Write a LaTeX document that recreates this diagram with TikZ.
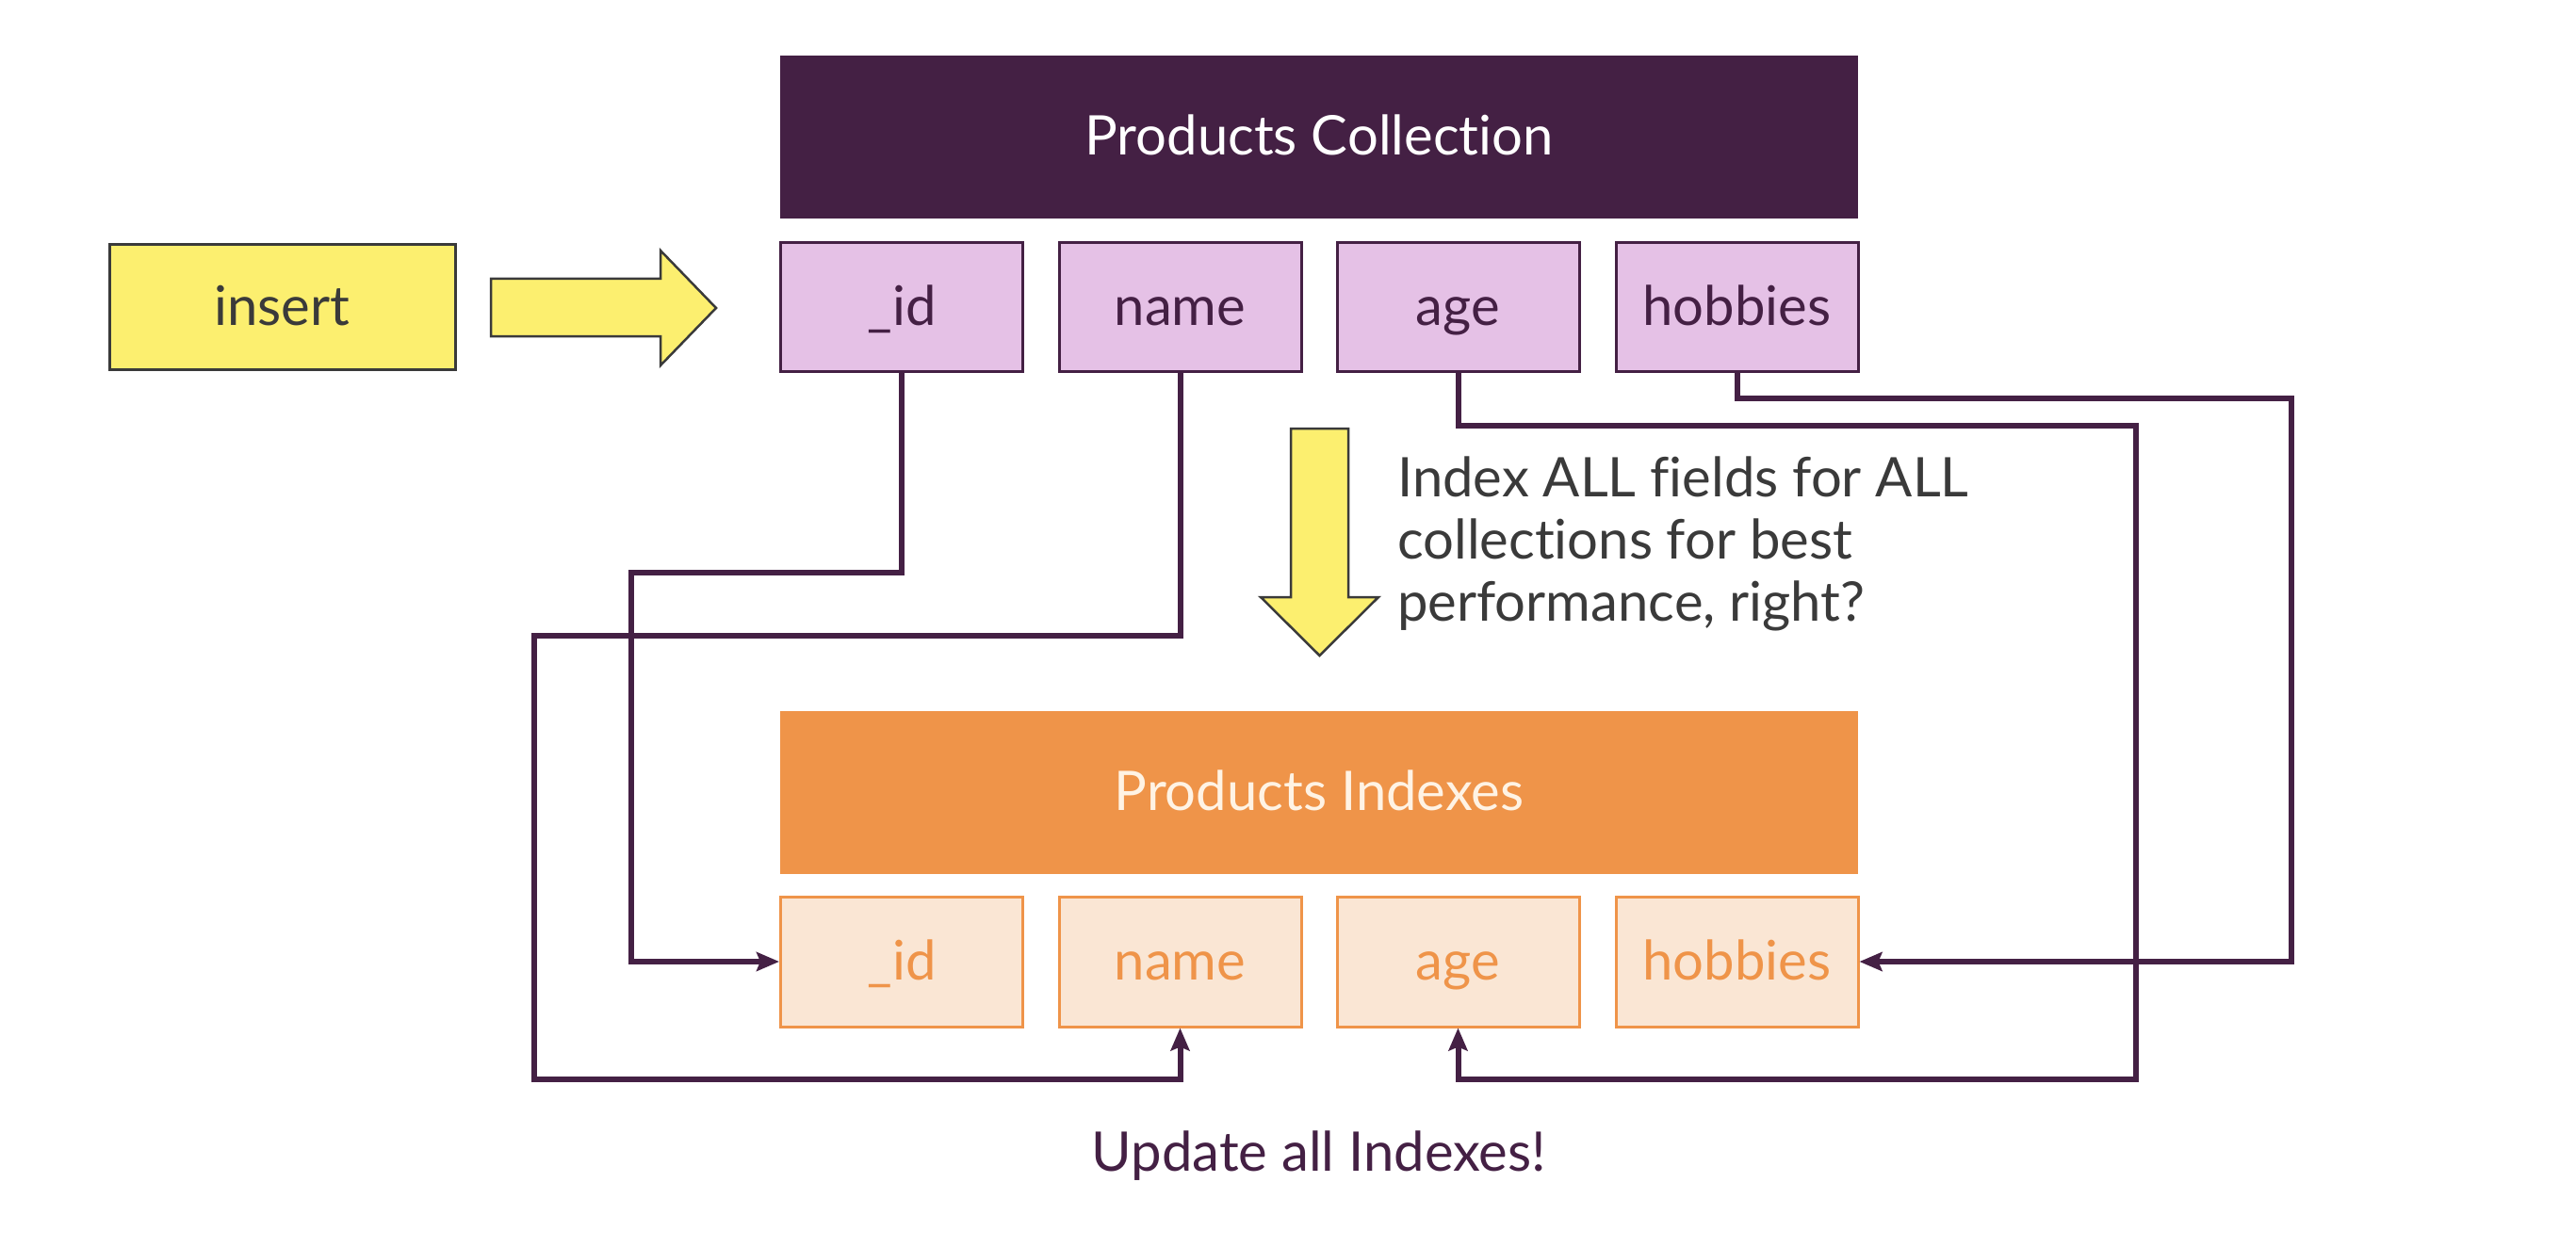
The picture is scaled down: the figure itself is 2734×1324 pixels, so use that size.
\documentclass[tikz,border=0pt]{standalone}
\usepackage{fontspec}
\setmainfont{Lato}[Ligatures=NoCommon]
\usetikzlibrary{arrows.meta}
\definecolor{dpurple}{HTML}{442044}
\definecolor{pinkf}{HTML}{E5C1E6}
\definecolor{yel}{HTML}{FCEF6F}
\definecolor{orng}{HTML}{EF9449}
\definecolor{lorng}{HTML}{FAE6D4}
\definecolor{cream}{HTML}{FFF3E4}
\definecolor{dgray}{HTML}{3A3A3A}
\tikzset{
  txt/.style={font=\fontsize{58}{66}\selectfont},
  boxtxt/.style={txt, text height=52pt, text depth=14pt},
  header/.style={boxtxt, minimum width=1144pt, minimum height=173pt, inner sep=0pt},
  fieldbox/.style={boxtxt, draw=dpurple, line width=3pt, fill=pinkf, text=dpurple, minimum width=257pt, minimum height=136pt, inner sep=0pt},
  idxbox/.style={boxtxt, draw=orng, line width=3pt, fill=lorng, text=orng, minimum width=257pt, minimum height=138pt, inner sep=0pt},
  insbox/.style={boxtxt, draw=dgray, line width=3pt, fill=yel, text=dgray, minimum width=367pt, minimum height=132pt, inner sep=0pt},
  bigarrow/.style={draw=dgray, line width=2.5pt, fill=yel, line join=miter},
  conn/.style={draw=dpurple, line width=6pt, -{Stealth[length=24pt, width=20pt, inset=4pt]}},
}
\begin{document}
\begin{tikzpicture}[x=1pt, y=-1pt]
\useasboundingbox[fill=white] (0,0) rectangle (2734,1324);
% headers
\node[header, fill=dpurple, text=white] (pc) at (1400,145.5) {Products Collection};
\node[header, fill=orng, text=cream] (pi) at (1400,841.5) {Products Indexes};
% collection fields
\node[fieldbox] (f1) at (957,326) {\_id};
\node[fieldbox] (f2) at (1252.5,326) {name};
\node[fieldbox] (f3) at (1547.5,326) {age};
\node[fieldbox] (f4) at (1843.5,326) {hobbies};
% index fields
\node[idxbox] (i1) at (957,1021) {\_id};
\node[idxbox] (i2) at (1252.5,1021) {name};
\node[idxbox] (i3) at (1547.5,1021) {age};
\node[idxbox] (i4) at (1843.5,1021) {hobbies};
% insert
\node[insbox] (ins) at (299.5,326) {insert};
% big arrows
\path[bigarrow] (521,296) -- (701,296) -- (701,266) -- (760,327) -- (701,388) -- (701,357) -- (521,357) -- cycle;
\path[bigarrow] (1370,455) -- (1431,455) -- (1431,634) -- (1463,634) -- (1400.5,696) -- (1338,634) -- (1370,634) -- cycle;
% note
\node[txt, text=dgray, align=left, anchor=base west, inner sep=0pt] (note) at (1483,659)
  {Index ALL fields for ALL\\collections for best\\performance, right?};
\node[txt, text=dpurple, anchor=base, inner sep=0pt] (upd) at (1400,1243) {Update all Indexes!};
% connectors
\coordinate (c1) at (670,608);
\coordinate (c2a) at (567,675);
\coordinate (c2b) at (567,1146);
\coordinate (c3a) at (2267,452);
\coordinate (c3b) at (2267,1146);
\coordinate (c4) at (2432,423);
\draw[conn] (f1.south) |- (c1) |- (i1.west);
\draw[conn] (f2.south) |- (c2a) -- (c2b) -| (i2.south);
\draw[conn] (f3.south) |- (c3a) -- (c3b) -| (i3.south);
\draw[conn] (f4.south) |- (c4) |- (i4.east);
\end{tikzpicture}
\end{document}
